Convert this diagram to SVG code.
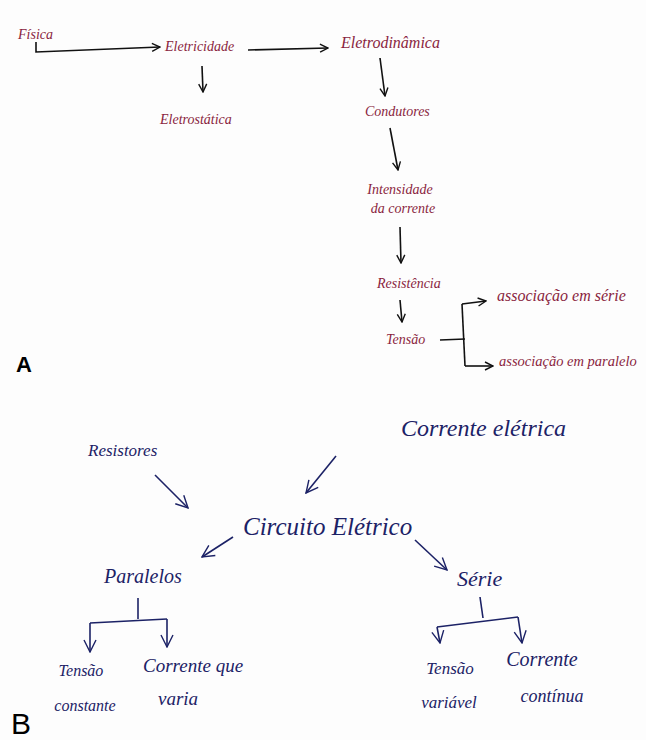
<svg xmlns="http://www.w3.org/2000/svg" width="646" height="740" viewBox="0 0 646 740">
<defs>
<style>
.a{font-family:"Liberation Serif",serif;font-style:italic;fill:#8a1f40}
.b{font-family:"Liberation Serif",serif;font-style:italic;fill:#1c2266}
.ca{stroke:#111;stroke-width:1.6;fill:none}
.cb{stroke:#1c2266;stroke-width:1.6;fill:none}
.lbl{font-family:"Liberation Sans",Arial,sans-serif;fill:#000}
</style>
<marker id="ha" viewBox="0 0 10 10" refX="9" refY="5" markerWidth="10" markerHeight="10" markerUnits="userSpaceOnUse" orient="auto">
<path d="M1,1 L9,5 L1,9" stroke="#111" stroke-width="1.4" fill="none"/>
</marker>
<marker id="hb" viewBox="0 0 14 14" refX="13" refY="7" markerWidth="14" markerHeight="14" markerUnits="userSpaceOnUse" orient="auto">
<path d="M1,1 L13,7 L1,13" stroke="#1c2266" stroke-width="1.4" fill="none"/>
</marker>
</defs>
<rect width="646" height="740" fill="#fdfdfd"/>

<g id="connectors-a">
<path class="ca" d="M36,42 L36,52 L160,47" marker-end="url(#ha)"/>
<path class="ca" d="M248,50 L328,48" marker-end="url(#ha)"/>
<path class="ca" d="M202,66 L203,92" marker-end="url(#ha)"/>
<path class="ca" d="M380,58 L385,96" marker-end="url(#ha)"/>
<path class="ca" d="M390,128 L398,170" marker-end="url(#ha)"/>
<path class="ca" d="M400,227 L401,263" marker-end="url(#ha)"/>
<path class="ca" d="M400,300 L402,322" marker-end="url(#ha)"/>
<path class="ca" d="M440,340 L465,339"/>
<path class="ca" d="M462,304 L465,366"/>
<path class="ca" d="M462,304 L486,301" marker-end="url(#ha)"/>
<path class="ca" d="M465,366 L493,366" marker-end="url(#ha)"/>
</g>

<g id="n-fisica"><text class="a" x="18" y="39" font-size="14">Física</text></g>
<g id="n-eletricidade"><text class="a" x="165" y="51" font-size="14">Eletricidade</text></g>
<g id="n-eletrodinamica"><text class="a" x="341" y="48" font-size="16">Eletrodinâmica</text></g>
<g id="n-eletrostatica"><text class="a" x="160" y="124" font-size="14">Eletrostática</text></g>
<g id="n-condutores"><text class="a" x="365" y="116" font-size="14">Condutores</text></g>
<g id="n-intensidade"><text class="a" x="400" y="194" font-size="14" text-anchor="middle">Intensidade</text><text class="a" x="403" y="213" font-size="14" text-anchor="middle">da corrente</text></g>
<g id="n-resistencia"><text class="a" x="377" y="288" font-size="14">Resistência</text></g>
<g id="n-tensao-a"><text class="a" x="386" y="344" font-size="14">Tensão</text></g>
<g id="n-serie-a"><text class="a" x="497" y="301" font-size="16">associação em série</text></g>
<g id="n-paralelo-a"><text class="a" x="499" y="366" font-size="14.5">associação em paralelo</text></g>
<g id="label-a"><text class="lbl" x="16" y="372" font-size="22" font-weight="bold">A</text></g>

<g id="connectors-b">
<path class="cb" d="M155,475 L188,508" marker-end="url(#hb)"/>
<path class="cb" d="M336,456 L306,493" marker-end="url(#hb)"/>
<path class="cb" d="M233,537 L202,557" marker-end="url(#hb)"/>
<path class="cb" d="M415,540 L447,570" marker-end="url(#hb)"/>
<path class="cb" d="M138,598 L138,619"/>
<path class="cb" d="M90,623 L167,619"/>
<path class="cb" d="M90,623 L90,652" marker-end="url(#hb)"/>
<path class="cb" d="M167,619 L167,647" marker-end="url(#hb)"/>
<path class="cb" d="M480,597 L483,618"/>
<path class="cb" d="M437,627 L518,617"/>
<path class="cb" d="M437,627 L440,643" marker-end="url(#hb)"/>
<path class="cb" d="M518,617 L522,643" marker-end="url(#hb)"/>
</g>

<g id="n-resistores"><text class="b" x="88" y="456" font-size="17">Resistores</text></g>
<g id="n-corrente-eletrica"><text class="b" x="401" y="436" font-size="24">Corrente elétrica</text></g>
<g id="n-circuito"><text class="b" x="243" y="535" font-size="25">Circuito Elétrico</text></g>
<g id="n-paralelos"><text class="b" x="104" y="583" font-size="20">Paralelos</text></g>
<g id="n-serie-b"><text class="b" x="457" y="586" font-size="22">Série</text></g>
<g id="n-tensao-constante"><text class="b" x="81" y="676" font-size="16" text-anchor="middle">Tensão</text><text class="b" x="85" y="711" font-size="16" text-anchor="middle">constante</text></g>
<g id="n-corrente-varia"><text class="b" x="143" y="672" font-size="19">Corrente que</text><text class="b" x="158" y="705" font-size="19">varia</text></g>
<g id="n-tensao-variavel"><text class="b" x="450" y="674" font-size="17" text-anchor="middle">Tensão</text><text class="b" x="449" y="708" font-size="17" text-anchor="middle">variável</text></g>
<g id="n-corrente-continua"><text class="b" x="542" y="666" font-size="20" text-anchor="middle">Corrente</text><text class="b" x="552" y="702" font-size="18" text-anchor="middle">contínua</text></g>
<g id="label-b"><text class="lbl" x="11" y="734" font-size="30">B</text></g>
</svg>
